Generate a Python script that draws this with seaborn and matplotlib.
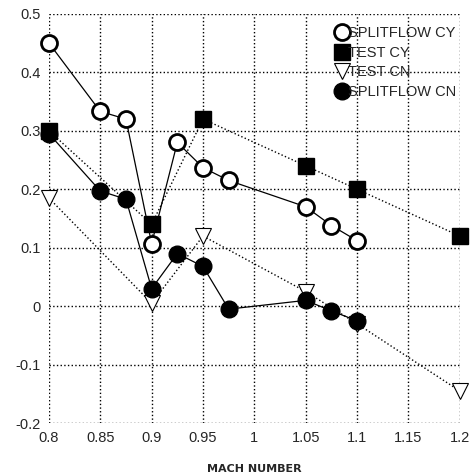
import matplotlib
matplotlib.use("Agg")
import matplotlib.pyplot as plt
from matplotlib.lines import Line2D
import seaborn as sns
import pandas as pd

sf_cy_x = [0.8, 0.85, 0.875, 0.9, 0.925, 0.95, 0.975, 1.05, 1.075, 1.1]
sf_cy_y = [0.45, 0.333, 0.32, 0.107, 0.28, 0.237, 0.215, 0.17, 0.138, 0.112]
test_cy_x = [0.8, 0.9, 0.95, 1.05, 1.1, 1.2]
test_cy_y = [0.30, 0.14, 0.32, 0.24, 0.20, 0.12]
test_cn_x = [0.8, 0.9, 0.95, 1.05, 1.1, 1.2]
test_cn_y = [0.185, 0.005, 0.12, 0.025, -0.03, -0.145]
sf_cn_x = [0.8, 0.85, 0.875, 0.9, 0.925, 0.95, 0.975, 1.05, 1.075, 1.1]
sf_cn_y = [0.295, 0.197, 0.183, 0.03, 0.09, 0.068, -0.005, 0.01, -0.008, -0.025]

x_ticks = [0.8, 0.85, 0.9, 0.95, 1, 1.05, 1.1, 1.15, 1.2]
x_tick_labels = ["0.8", "0.85", "0.9", "0.95", "1", "1.05", "1.1", "1.15", "1.2"]
y_ticks = [-0.2, -0.1, 0, 0.1, 0.2, 0.3, 0.4, 0.5]
y_tick_labels = ["-0.2", "-0.1", "0", "0.1", "0.2", "0.3", "0.4", "0.5"]

sns.set_style("white")
plt.rcParams['font.family'] = ['Liberation Sans', 'DejaVu Sans']

fig = plt.figure(figsize=(4.75, 4.76), dpi=100)
ax = fig.add_axes([0.103, 0.111, 0.865, 0.860])

series = [
    ("SPLITFLOW CY", sf_cy_x, sf_cy_y, dict(linestyle='-', marker='o', mfc='white', mec='black', ms=11.5, mew=2.0, lw=0.9)),
    ("TEST CY", test_cy_x, test_cy_y, dict(linestyle=':', marker='s', mfc='black', mec='black', ms=12, mew=1, lw=1.0)),
    ("TEST CN", test_cn_x, test_cn_y, dict(linestyle=':', marker='v', mfc='white', mec='black', ms=12, mew=0.8, lw=1.0)),
    ("SPLITFLOW CN", sf_cn_x, sf_cn_y, dict(linestyle='-', marker='o', mfc='black', mec='black', ms=12, mew=1, lw=0.9)),
]

handles = []
for name, xs, ys, st in series:
    df = pd.DataFrame({"x": xs, "y": ys})
    sns.lineplot(data=df, x="x", y="y", ax=ax, color='black', sort=False,
                 estimator=None, clip_on=False, zorder=3, **st)
    handles.append(Line2D([], [], color='black', linestyle='none', marker=st['marker'],
                          mfc=st['mfc'], mec=st['mec'], ms=st['ms'], mew=st['mew']))

ax.set_xlim(0.8, 1.2)
ax.set_ylim(-0.2, 0.5)
ax.set_xticks(x_ticks)
ax.set_xticklabels(x_tick_labels, fontsize=10.5)
ax.set_yticks(y_ticks)
ax.set_yticklabels(y_tick_labels, fontsize=10.5)
ax.grid(True, color='black', linestyle=':', linewidth=1.0)
for s in ax.spines.values():
    s.set_visible(False)
ax.tick_params(axis='both', length=0, pad=6)
ax.set_xlabel("MACH NUMBER", fontsize=8, fontweight='bold', labelpad=13,
              family=['DejaVu Sans', 'Liberation Sans'])
ax.set_ylabel("")

leg = ax.legend(handles, [s[0] for s in series], loc='upper right', bbox_to_anchor=(1.005, 0.985),
                frameon=False, fontsize=10.5, handlelength=0.8, handletextpad=0.0,
                labelspacing=0.4, borderaxespad=0.0)

fig.savefig("out.png", dpi=100)
